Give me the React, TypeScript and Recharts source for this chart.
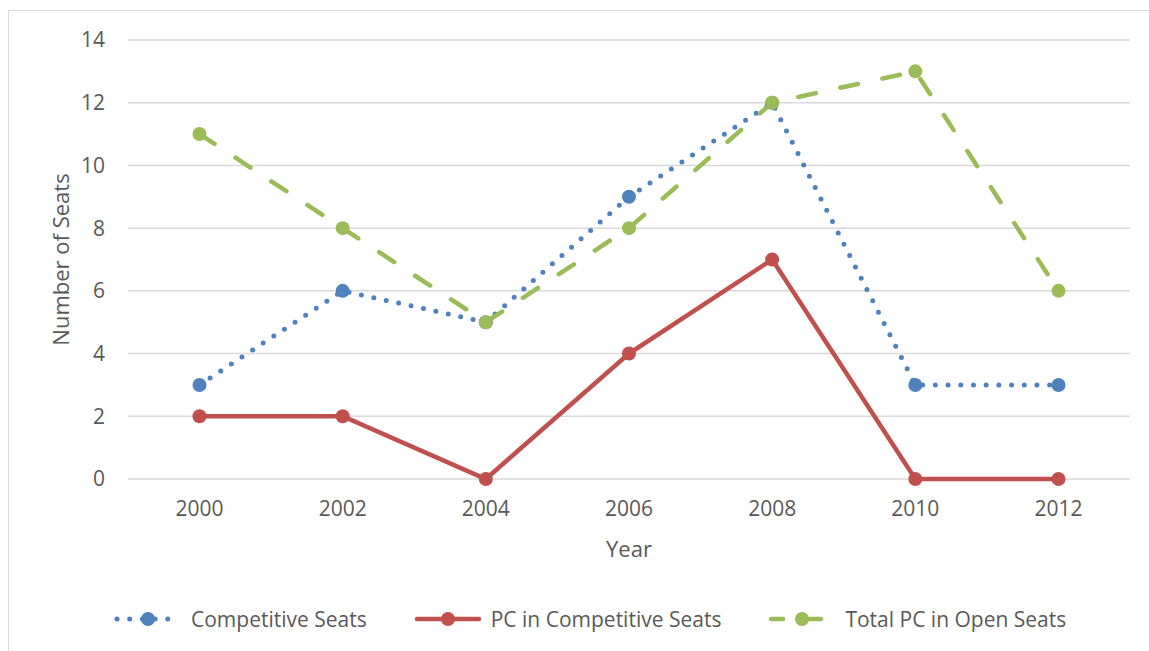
import { LineChart, Line, XAxis, YAxis, CartesianGrid, Legend } from 'recharts'

const years = ['2000', '2002', '2004', '2006', '2008', '2010', '2012']
const competitiveSeats = [3, 6, 5, 9, 12, 3, 3]
const pcInCompetitive = [2, 2, 0, 4, 7, 0, 0]
const totalPcOpen = [11, 8, 5, 8, 12, 13, 6]
const yTicks = [0, 2, 4, 6, 8, 10, 12, 14]

const data = years.map((year, i) => ({
  year,
  competitive: competitiveSeats[i],
  pcCompetitive: pcInCompetitive[i],
  pcOpen: totalPcOpen[i],
}))

const FONT = '"Open Sans", sans-serif'
const TEXT = '#595959'
const GRID = '#d9d9d9'

const series = [
  { key: 'competitive', name: 'Competitive Seats', color: '#4f81bd', dash: '0 12.7', width: 5 },
  { key: 'pcCompetitive', name: 'PC in Competitive Seats', color: '#c0504d', dash: undefined, width: 4.5 },
  { key: 'pcOpen', name: 'Total PC in Open Seats', color: '#9bbb59', dash: '18 25', width: 4.5 },
]

const LegendBox = () => (
  <div style={{ width: 1149, height: 40, display: 'flex', alignItems: 'center', paddingLeft: 113, boxSizing: 'border-box', fontFamily: FONT, fontSize: 21, color: TEXT }}>
    {series.map((s) => (
      <div key={s.key} style={{ display: 'flex', alignItems: 'center', marginRight: 46 }}>
        <svg width={70} height={20} style={{ marginRight: 8 }}>
          <line x1={4} y1={10} x2={66} y2={10} stroke={s.color} strokeWidth={s.width} strokeDasharray={s.key === 'pcOpen' ? '12 26' : s.dash} strokeLinecap="round" />
          <circle cx={35} cy={10} r={7} fill={s.color} />
        </svg>
        <span>{s.name}</span>
      </div>
    ))}
  </div>
)

export default function App() {
  return (
    <div style={{ position: 'fixed', left: 0, top: 0, width: 1149, height: 651, overflow: 'hidden', background: '#fff' }}>
      <div style={{ position: 'absolute', left: 8, top: 10, width: 1170, height: 700, border: '1.5px solid #d9d9d9' }} />
      <div style={{ position: 'absolute', left: 0, top: 0 }}>
        <LineChart width={1149} height={651} data={data} margin={{ top: 40, right: 19, left: 0, bottom: 12 }}>
          <CartesianGrid vertical={false} stroke={GRID} strokeWidth={1.5} />
          <XAxis
            dataKey="year"
            height={120}
            padding={{ left: 71.5, right: 71.5 }}
            tickLine={false}
            axisLine={false}
            tickSize={0}
            tickMargin={22}
            tick={{ fill: TEXT, fontSize: 21, fontFamily: FONT }}
            label={({ viewBox }: any) => (
              <text x={viewBox.x + viewBox.width / 2} y={viewBox.y + 69} textAnchor="middle" dominantBaseline="central" fill={TEXT} fontSize={22} fontFamily={FONT}>
                Year
              </text>
            )}
          />
          <YAxis
            width={128}
            domain={[0, 14]}
            ticks={yTicks}
            interval={0}
            tickLine={false}
            axisLine={false}
            tickSize={0}
            tickMargin={23}
            tick={{ fill: TEXT, fontSize: 21, fontFamily: FONT }}
            label={({ viewBox }: any) => {
              const cy = viewBox.y + viewBox.height / 2
              return (
                <text x={60} y={cy} transform={`rotate(-90, 60, ${cy})`} textAnchor="middle" dominantBaseline="central" fill={TEXT} fontSize={22} fontFamily={FONT}>
                  Number of Seats
                </text>
              )
            }}
          />
          <Legend verticalAlign="bottom" content={() => <LegendBox />} wrapperStyle={{ left: 0, width: 1149 }} />
          {series.map((s) => (
            <Line
              key={s.key}
              type="linear"
              dataKey={s.key}
              name={s.name}
              stroke={s.color}
              strokeWidth={s.width}
              strokeDasharray={s.dash}
              strokeLinecap="round"
              dot={{ r: 7, fill: s.color, stroke: 'none' }}
              activeDot={false}
              isAnimationActive={false}
            />
          ))}
        </LineChart>
      </div>
    </div>
  )
}
